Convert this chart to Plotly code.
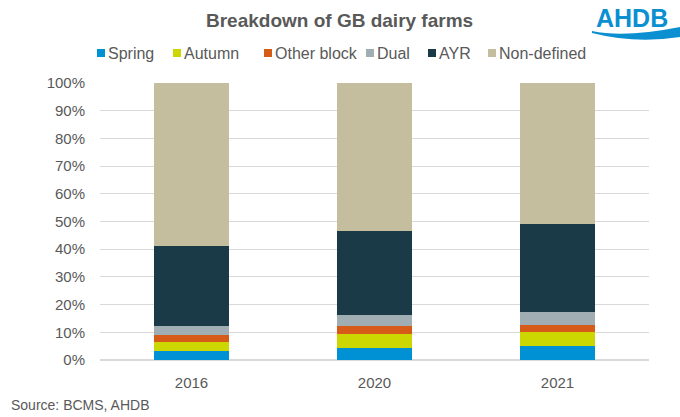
import plotly.graph_objects as go

years = ["2016", "2020", "2021"]
spring = [3.4, 4.5, 4.9]
autumn = [3.0, 4.9, 5.2]
other_block = [2.6, 2.9, 2.7]
dual = [3.3, 4.1, 4.5]
ayr = [28.8, 30.1, 31.7]
non_defined = [58.9, 53.5, 51.0]

series_names = ["Spring", "Autumn", "Other block", "Dual", "AYR", "Non-defined"]
series_values = [spring, autumn, other_block, dual, ayr, non_defined]
series_colors = ["#0090D4", "#CCD600", "#D65A18", "#A0AEB3", "#1B3A47", "#C4BD9E"]

W, H = 680, 417
L, T = 100, 83
R = W - 649
B = H - 360
PW, PH = W - L - R, H - T - B


def px(x):
    return (x - L) / PW


def py(y):
    return (H - B - y) / PH


fig = go.Figure()
for name, vals, col in zip(series_names, series_values, series_colors):
    fig.add_trace(go.Bar(
        x=years, y=[v / 100 for v in vals], name=name,
        marker=dict(color=col, line=dict(width=0)),
        width=0.405, showlegend=False,
    ))

fig.update_layout(
    barmode="stack",
    width=W, height=H,
    margin=dict(l=L, r=R, t=T, b=B, autoexpand=False),
    paper_bgcolor="white", plot_bgcolor="white",
    font=dict(family="Liberation Sans, Arial, sans-serif", color="#595959", size=15),
    xaxis=dict(showline=False, ticks="", tickfont=dict(size=15, color="#595959"),
               ticklabelstandoff=12),
    yaxis=dict(range=[0, 1], tickformat=".0%", dtick=0.1, showgrid=True,
               gridcolor="#D9D9D9", gridwidth=1, zeroline=True, zerolinecolor="#D9D9D9",
               tickfont=dict(size=15, color="#595959"), ticklabelstandoff=14),
    showlegend=False,
)

# title
fig.add_annotation(text="<b>Breakdown of GB dairy farms</b>", xref="paper", yref="paper",
                   x=px(339), y=py(21), xanchor="center", yanchor="middle",
                   showarrow=False, font=dict(size=19, color="#595959"))

# manual legend (positions in pixels)
legend_sq_x = [97, 173, 264, 366, 428, 488]
for name, col, sx in zip(series_names, series_colors, legend_sq_x):
    fig.add_shape(type="rect", xref="paper", yref="paper",
                  x0=px(sx), x1=px(sx + 8), y0=py(57), y1=py(49),
                  fillcolor=col, line=dict(width=0))
    fig.add_annotation(text=name, xref="paper", yref="paper",
                       x=px(sx + 9), y=py(53), xanchor="left", yanchor="middle",
                       showarrow=False, font=dict(size=16, color="#595959"))

fig.add_annotation(text="Source: BCMS, AHDB", xref="paper", yref="paper",
                   x=px(9), y=py(405), xanchor="left", yanchor="middle",
                   showarrow=False, font=dict(size=14, color="#595959"))

# AHDB logo
fig.add_annotation(text="<b>AHDB</b>", xref="paper", yref="paper",
                   x=px(595), y=py(18), xanchor="left", yanchor="middle",
                   showarrow=False, borderpad=0, font=dict(size=25, color="#0A8FD1",
                                              family="Liberation Sans, Arial, sans-serif"))
wave = [(592, 31), (625, 38), (680, 27), (680, 37), (635, 44), (592, 33)]
path = "M {},{} Q {},{} {},{} L {},{} Q {},{} {},{} Z".format(
    px(wave[0][0]), py(wave[0][1]), px(wave[1][0]), py(wave[1][1]), px(wave[2][0]), py(wave[2][1]),
    px(wave[3][0]), py(wave[3][1]), px(wave[4][0]), py(wave[4][1]), px(wave[5][0]), py(wave[5][1]))
fig.add_shape(type="path", xref="paper", yref="paper", path=path,
              fillcolor="#0A8FD1", line=dict(width=0))

fig.write_html("out.html",
               config={"displayModeBar": False},
               post_script="document.body.style.margin='0';document.body.style.overflow='hidden';")
